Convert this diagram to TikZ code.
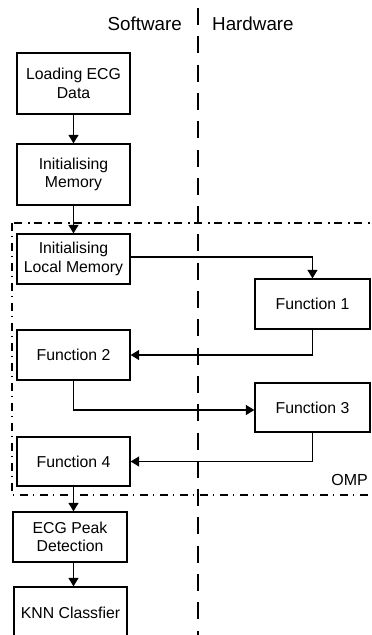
\documentclass[tikz,border=0pt]{standalone}
\usepackage{fontspec}
\setmainfont{Liberation Sans}
\usetikzlibrary{arrows.meta,calc}

\tikzset{
  procbox/.style={draw, line width=1.3pt, align=center, inner sep=0pt,
    font=\fontsize{15.8}{18.4}\selectfont},
  flow/.style={line width=1.2pt, -{Triangle[length=8.5pt,width=10pt]}},
  lanesep/.style={line width=1.1pt, dash pattern=on 17pt off 11.3pt},
  ompframe/.style={line width=1.2pt, dash pattern=on 8pt off 4.5pt on 1.5pt off 6pt},
  lanehead/.style={inner sep=0pt, font=\fontsize{18.8}{22}\selectfont},
}

\begin{document}
\begin{tikzpicture}[x=1pt, y=-1pt]
  \useasboundingbox (0,0) rectangle (372,635);
  \clip (0,0) rectangle (372,635);

  % swimlane separator and headings
  \coordinate (laneTop) at (198,8);
  \coordinate (laneBot) at (198,645);
  \draw[lanesep] (laneTop) -- (laneBot);
  \node[lanehead, anchor=east] (sw) at (182,24) {Software};
  \node[lanehead, anchor=west] (hw) at (212,24) {Hardware};

  % OMP region
  \coordinate (ompA) at (12,223);
  \coordinate (ompB) at (385,495);
  \draw[ompframe] (ompA) rectangle (ompB);
  \node[inner sep=0pt, anchor=east, font=\fontsize{16}{18}\selectfont] (omp) at (368,480) {OMP};

  % process boxes
  \node[procbox, minimum width=113pt, minimum height=61pt] (load) at (73.5,83.5) {Loading ECG\\Data};
  \node[procbox, minimum width=113pt, minimum height=61pt] (imem) at (73.5,174.5) {Initialising\\Memory};
  \node[procbox, minimum width=113pt, minimum height=50pt] (lmem) at (73.5,259) {Initialising\\Local Memory};
  \node[procbox, minimum width=115pt, minimum height=50pt] (f1) at (312.5,304) {Function 1};
  \node[procbox, minimum width=113pt, minimum height=50pt] (f2) at (73.5,355) {Function 2};
  \node[procbox, minimum width=115pt, minimum height=49pt] (f3) at (312.5,407.5) {Function 3};
  \node[procbox, minimum width=113pt, minimum height=49pt] (f4) at (73.5,461.5) {Function 4};
  \node[procbox, minimum width=114pt, minimum height=50pt] (peak) at (70,537) {ECG Peak\\Detection};
  \node[procbox, minimum width=113pt, minimum height=52pt] (knn) at (70.5,613) {KNN Classfier};

  % control flow
  \draw[flow] (load) -- (imem);
  \draw[flow] (imem) -- (lmem);
  \draw[flow] ($(lmem.east)+(0,-2)$) -| (f1.north);
  \draw[flow] (f1.south) |- (f2.east);
  \draw[flow] (f2.south) |- ($(f3.west)+(0,2.5)$);
  \draw[flow] (f3.south) |- (f4.east);
  \draw[flow] (f4.south) -- (f4.south |- peak.north);
  \draw[flow] (f4.south |- peak.south) -- (f4.south |- knn.north);
\end{tikzpicture}
\end{document}
